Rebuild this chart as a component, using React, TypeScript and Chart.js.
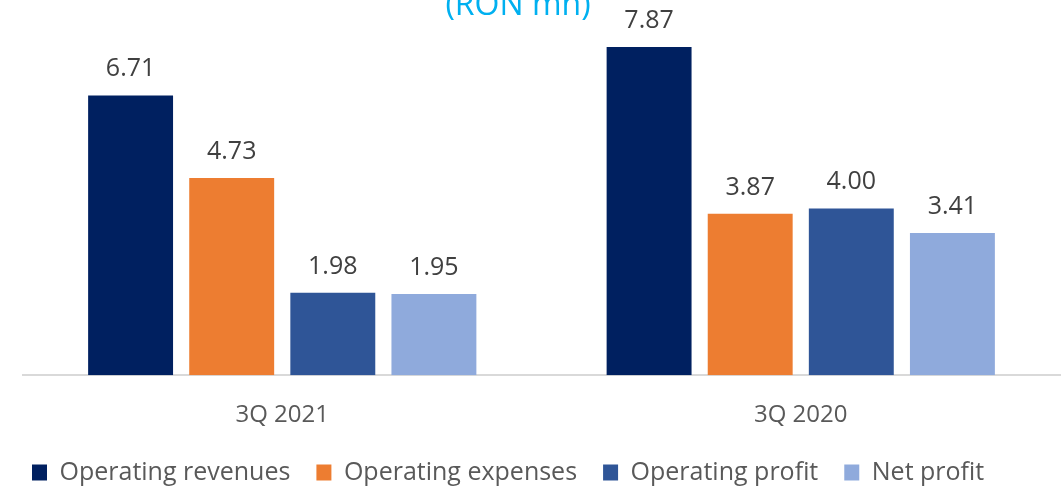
import React, { useEffect, useRef } from "react";
import { Chart, registerables } from "chart.js";

Chart.register(...registerables);

const categories = ["3Q 2021", "3Q 2020"];
const seriesNames = ["Operating revenues", "Operating expenses", "Operating profit", "Net profit"];
const operatingRevenues = [6.71, 7.87];
const operatingExpenses = [4.73, 3.87];
const operatingProfit = [1.98, 4.0];
const netProfit = [1.95, 3.41];
const seriesColors = ["#002060", "#ED7D31", "#2F5597", "#8FAADC"];
const titleText = "(RON mn)";

const FONT = "'Open Sans', sans-serif";

const labelsPlugin = {
  id: "barLabels",
  afterDatasetsDraw(chart: any) {
    const ctx = chart.ctx;
    ctx.save();
    ctx.font = `25px ${FONT}`;
    ctx.fillStyle = "#404040";
    ctx.textAlign = "center";
    ctx.textBaseline = "alphabetic";
    chart.data.datasets.forEach((ds: any, i: number) => {
      const meta = chart.getDatasetMeta(i);
      meta.data.forEach((bar: any, j: number) => {
        ctx.fillText(Number(ds.data[j]).toFixed(2), bar.x, bar.y - 19);
      });
    });
    ctx.font = `32px ${FONT}`;
    ctx.fillStyle = "#00B0F0";
    ctx.fillText(titleText, 518, 15);
    ctx.restore();
  },
};

export default function App() {
  const ref = useRef<HTMLCanvasElement>(null);
  useEffect(() => {
    if (!ref.current) return;
    const allSeries = [operatingRevenues, operatingExpenses, operatingProfit, netProfit];
    const chart = new Chart(ref.current, {
      type: "bar",
      data: {
        labels: categories,
        datasets: allSeries.map((d, i) => ({
          label: seriesNames[i],
          data: d,
          backgroundColor: seriesColors[i],
          borderWidth: 0,
          categoryPercentage: 0.78,
          barPercentage: 0.84,
        })),
      },
      options: {
        animation: false,
        responsive: false,
        layout: { padding: { left: 6, right: 3, top: 0, bottom: -9 } },
        scales: {
          x: {
            grid: { display: false },
            border: { display: true, color: "#D9D9D9", width: 2 },
            ticks: { color: "#595959", font: { family: FONT, size: 24 }, padding: 18 },
            afterFit: (s: any) => {
              s.height = s.height - 14;
            },
          },
          y: {
            display: true,
            min: 0,
            max: 9,
            grid: { display: false },
            border: { display: false },
            ticks: { display: false },
            afterFit: (s: any) => {
              s.width = 17;
            },
          },
        },
        plugins: {
          legend: {
            position: "bottom",
            align: "start",
            labels: {
              boxWidth: 15,
              boxHeight: 16,
              padding: 26,
              color: "#595959",
              font: { family: FONT, size: 25 },
            },
          },
          tooltip: { enabled: false },
        },
      },
      plugins: [labelsPlugin],
    });
    return () => chart.destroy();
  }, []);
  return (
    <div style={{ position: "absolute", left: 0, top: 0, width: 1063, height: 486 }}>
      <canvas ref={ref} width={1063} height={486} />
    </div>
  );
}
